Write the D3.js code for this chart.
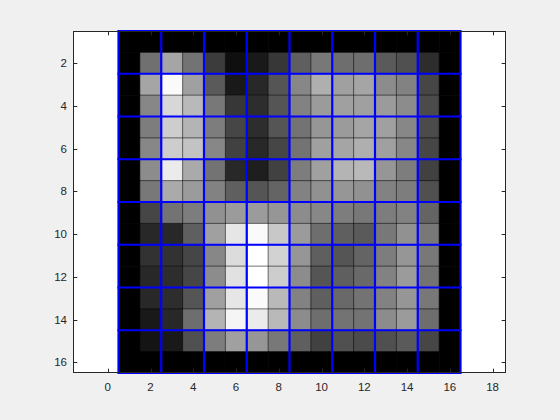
<!DOCTYPE html>
<html><head><meta charset="utf-8">
<script src="https://cdn.jsdelivr.net/npm/d3@7"></script>
<style>body{margin:0;background:#f0f0f0;}svg{display:block;}</style>
</head><body>
<script>
// Image data: 16 rows x 16 columns, gray levels 0-255
const row1  = [0,0,0,0,0,0,0,0,0,0,0,0,0,0,0,0];
const row2  = [0,112,165,115,60,15,25,55,95,120,110,110,90,80,45,0];
const row3  = [0,165,250,160,90,25,40,85,135,175,160,165,140,130,70,0];
const row4  = [0,135,215,185,120,55,45,85,130,155,160,160,155,140,75,0];
const row5  = [0,125,205,180,125,70,45,85,115,150,155,165,160,135,75,0];
const row6  = [0,135,205,195,135,65,40,70,115,160,165,175,160,135,70,0];
const row7  = [0,140,235,170,115,40,30,65,125,160,180,185,150,125,65,0];
const row8  = [0,120,170,155,130,95,85,100,130,145,150,145,130,125,80,0];
const row9  = [0,70,115,125,145,155,155,150,140,135,125,120,125,130,100,0];
const row10 = [0,40,40,95,160,230,250,200,155,110,95,90,120,145,120,0];
const row11 = [0,50,50,70,135,220,255,210,150,95,85,100,125,150,120,0];
const row12 = [0,40,45,70,140,225,255,205,140,85,95,105,130,155,115,0];
const row13 = [0,40,45,85,160,230,250,185,130,95,105,115,130,150,120,0];
const row14 = [0,25,40,110,180,245,235,185,140,110,115,115,140,155,110,0];
const row15 = [0,20,25,80,125,160,150,120,95,65,80,75,80,90,70,0];
const row16 = [0,0,0,0,0,0,0,0,0,0,0,0,0,0,0,0];
const imageRows = [row1,row2,row3,row4,row5,row6,row7,row8,row9,row10,row11,row12,row13,row14,row15,row16];
const xTicks = [0,2,4,6,8,10,12,14,16,18];
const yTicks = [2,4,6,8,10,12,14,16];
const blueLines = [0.5,2.5,4.5,6.5,8.5,10.5,12.5,14.5,16.5];

const W = 560, H = 420;
const L = 73, R = 506, T = 31, B = 373;
const unit = (B - T) / 16;
const xc = 8.5, xhalf = (R - L) / unit / 2;

const svg = d3.select("body").append("svg").attr("width", W).attr("height", H);
svg.append("rect").attr("width", W).attr("height", H).attr("fill", "#f0f0f0");

const x = d3.scaleLinear().domain([xc - xhalf, xc + xhalf]).range([L, R]);
const y = d3.scaleLinear().domain([0.5, 16.5]).range([T, B]);

svg.append("rect").attr("x", L).attr("y", T).attr("width", R - L).attr("height", B - T).attr("fill", "#fff");

const cells = [];
imageRows.forEach((r, i) => r.forEach((v, j) => cells.push({r: i + 1, c: j + 1, v})));
svg.append("g").selectAll("rect").data(cells).join("rect")
  .attr("x", d => x(d.c - 0.5))
  .attr("y", d => y(d.r - 0.5))
  .attr("width", d => x(d.c + 0.5) - x(d.c - 0.5) + 0.5)
  .attr("height", d => y(d.r + 0.5) - y(d.r - 0.5) + 0.5)
  .attr("fill", d => d3.rgb(d.v, d.v, d.v));

// thin cell boundaries
const thin = d3.range(0.5, 17, 1);
const tg = svg.append("g").attr("stroke", "#000").attr("stroke-opacity", 0.55).attr("stroke-width", 1);
thin.forEach(p => {
  tg.append("line").attr("x1", x(p)).attr("x2", x(p)).attr("y1", y(0.5)).attr("y2", y(16.5));
  tg.append("line").attr("y1", y(p)).attr("y2", y(p)).attr("x1", x(0.5)).attr("x2", x(16.5));
});

// blue grid
const bg = svg.append("g").attr("stroke", "#0000ff").attr("stroke-width", 2.2);
blueLines.forEach(p => {
  bg.append("line").attr("x1", x(p)).attr("x2", x(p)).attr("y1", y(0.5)).attr("y2", y(16.5));
  bg.append("line").attr("y1", y(p)).attr("y2", y(p)).attr("x1", x(0.5) - 1.1).attr("x2", x(16.5) + 1.1);
});

// axes
const axCol = "#262626";
const tl = 4.3;
const font = "Helvetica, Arial, 'Liberation Sans', sans-serif";
const ax = svg.append("g").attr("stroke", axCol).attr("stroke-width", 1).attr("fill", "none");
ax.append("rect").attr("x", L + 0.5).attr("y", T + 0.5).attr("width", R - L - 1).attr("height", B - T - 1);
xTicks.forEach(t => {
  const px = Math.round(x(t)) + 0.5;
  ax.append("line").attr("x1", px).attr("x2", px).attr("y1", B).attr("y2", B - tl);
  ax.append("line").attr("x1", px).attr("x2", px).attr("y1", T).attr("y2", T + tl);
});
yTicks.forEach(t => {
  const py = Math.round(y(t)) + 0.5;
  ax.append("line").attr("y1", py).attr("y2", py).attr("x1", L).attr("x2", L + tl);
  ax.append("line").attr("y1", py).attr("y2", py).attr("x1", R).attr("x2", R - tl);
});
svg.append("g").selectAll("text").data(xTicks).join("text")
  .attr("x", d => x(d)).attr("y", B + 18)
  .attr("text-anchor", "middle").attr("font-family", font).attr("font-size", 11.5).attr("fill", axCol)
  .text(d => d);
svg.append("g").selectAll("text").data(yTicks).join("text")
  .attr("x", L - 6).attr("y", d => y(d)).attr("dy", "0.35em")
  .attr("text-anchor", "end").attr("font-family", font).attr("font-size", 11.5).attr("fill", axCol)
  .text(d => d);
</script>
</body></html>
